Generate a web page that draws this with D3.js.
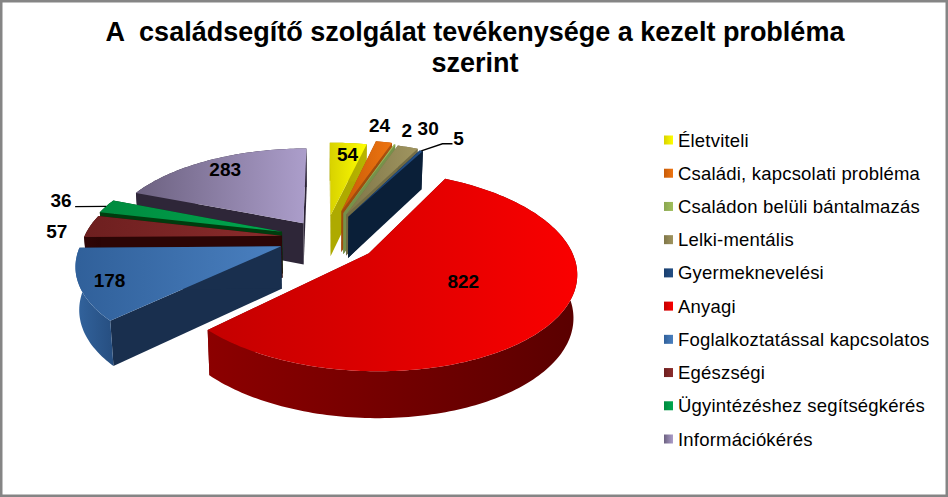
<!DOCTYPE html>
<html>
<head>
<meta charset="utf-8">
<style>
  body { margin: 0; background: #fff; }
  text { font-family: "Liberation Sans", Arial, sans-serif; white-space: pre; }
</style>
<script src="https://cdnjs.cloudflare.com/ajax/libs/d3/7.8.5/d3.min.js"></script>
</head>
<body>
<div id="chart"></div>
<script>
// data
var titleLines = ["A  családsegítő szolgálat tevékenysége a kezelt probléma", "szerint"];
var categories = ["Életviteli", "Családi, kapcsolati probléma", "Családon belüli bántalmazás", "Lelki-mentális", "Gyermeknevelési", "Anyagi", "Foglalkoztatással kapcsolatos", "Egészségi", "Ügyintézéshez segítségkérés", "Információkérés"];
var values = [54, 24, 2, 30, 5, 822, 178, 57, 36, 283];

// how far every slice is pulled out, share of the radius
var explode = [0.26, 0.32, 0.30, 0.29, 0.27, 0.27, 0.236, 0.22, 0.23, 0.20];

// colours of the faces
var topLeft = ["#d8d200", "#c85c08", "#8aa650", "#7f7648", "#1a3f6e", "#c40000", "#30609a", "#6d1f1f", "#008a3e", "#6c6180"];
var topRight = ["#ffff00", "#ee7410", "#a0bf5c", "#a09560", "#234f85", "#fa0000", "#4a80c0", "#8c2c2c", "#00a850", "#ac9ecb"];
var wallLeft = ["#a8a400", "#9c4a0c", "#6f8a42", "#6c6640", "#0a1f38", "#8c0000", "#33649e", "#300606", "#00400f", "#2e2638"];
var wallRight = ["#b8b400", "#b05410", "#7c984a", "#787048", "#0a1f38", "#5a0000", "#264e80", "#2a0404", "#003a0e", "#2e2638"];
var sideColor = ["#aeaa00", "#a04c0c", "#76914a", "#736c44", "#0a1f38", "#7a0000", "#192f4e", "#2c0505", "#003c0e", "#2e2638"];

// back to front
var drawOrder = [9, 8, 7, 6, 0, 1, 2, 3, 4, 5];

// label shift from the point at 0.7 of the radius
var labelShift = [[4, -8], [7, -35], [26, -33], [37, -37], [57, -30], [-32, -16], [-33, 8], [-90, 2], [-96, -13], [-11, -8]];

var width = 948, height = 497;
var cx = 325, cy = 238, Rx = 198, Ry = 92;
var persp = 0.17, depth = 42;

var svg = d3.select("#chart").append("svg")
    .attr("width", width)
    .attr("height", height)
    .style("display", "block");

var defs = svg.append("defs");

svg.append("rect")
    .attr("x", 1).attr("y", 1)
    .attr("width", width - 2).attr("height", height - 2)
    .attr("fill", "#fff")
    .attr("stroke", "#858585")
    .attr("stroke-width", 3);

svg.append("g").selectAll("text")
    .data(titleLines)
    .join("text")
    .attr("x", 475)
    .attr("y", (d, i) => 41 + i * 31)
    .attr("text-anchor", "middle")
    .attr("font-weight", "bold")
    .attr("font-size", 27)
    .text(d => d);

var x = d3.scaleLinear().domain([-1, 1]).range([cx - Rx, cx + Rx]);
var y = d3.scaleLinear().domain([-1, 1]).range([cy - Ry, cy + Ry]);

var pie = d3.pie().sort(null).value(d => d);
var arcs = pie(values);

// flat pie position to picture position, z is 0 on top and 1 at the bottom
function project(u, v, z) {
    var s = 1 / (1 - persp * v);
    return [
        x(u * s * (1 - 0.015 * z)),
        y(v * s) + z * depth * Math.sqrt(s)
    ];
}

function slicePoint(i, r, angle, z) {
    var mid = (arcs[i].startAngle + arcs[i].endAngle) / 2;
    var u = explode[i] * Math.sin(mid) + r * Math.sin(angle);
    var v = -explode[i] * Math.cos(mid) - r * Math.cos(angle);
    return project(u, v, z);
}

function arcAngles(i) {
    var a = arcs[i].startAngle, b = arcs[i].endAngle;
    var n = Math.max(2, Math.ceil((b - a) / 0.02));
    return d3.range(n + 1).map(k => a + (b - a) * k / n);
}

var line = d3.line();

function gradient(id, left, right) {
    var g = defs.append("linearGradient").attr("id", id)
        .attr("x1", 0).attr("x2", 1).attr("y1", 0).attr("y2", 0);
    g.append("stop").attr("offset", 0).attr("stop-color", left);
    g.append("stop").attr("offset", 1).attr("stop-color", right);
}

categories.forEach((c, i) => {
    gradient("top" + i, topLeft[i], topRight[i]);
    gradient("wall" + i, wallLeft[i], wallRight[i]);
});

var slices = svg.append("g").selectAll("g")
    .data(drawOrder)
    .join("g");

// radial side faces
slices.selectAll("path.side")
    .data(i => [[i, arcs[i].startAngle], [i, arcs[i].endAngle]])
    .join("path")
    .attr("class", "side")
    .attr("fill", d => sideColor[d[0]])
    .attr("d", d => line([
        slicePoint(d[0], 0, d[1], 0),
        slicePoint(d[0], 1, d[1], 0),
        slicePoint(d[0], 1, d[1], 1),
        slicePoint(d[0], 0, d[1], 1)
    ]) + "Z");

// outer wall
slices.append("path")
    .attr("fill", i => `url(#wall${i})`)
    .attr("d", i => {
        var angles = arcAngles(i);
        var upper = angles.map(a => slicePoint(i, 1, a, 0));
        var lower = angles.slice().reverse().map(a => slicePoint(i, 1, a, 1));
        return line(upper.concat(lower)) + "Z";
    });

// top face
slices.append("path")
    .attr("fill", i => `url(#top${i})`)
    .attr("d", i => {
        var pts = arcAngles(i).map(a => slicePoint(i, 1, a, 0));
        pts.unshift(slicePoint(i, 0, 0, 0));
        return line(pts) + "Z";
    });

// value labels
function labelPoint(i) {
    var mid = (arcs[i].startAngle + arcs[i].endAngle) / 2;
    var p = slicePoint(i, 0.7, mid, 0);
    return [p[0] + labelShift[i][0], p[1] + labelShift[i][1]];
}

// leader lines of the two far labels
function outerMid(i) {
    var mid = (arcs[i].startAngle + arcs[i].endAngle) / 2;
    return slicePoint(i, 1, mid, 0);
}
var leaders = svg.append("g").attr("fill", "none").attr("stroke", "#000").attr("stroke-width", 1.3);
var p5 = labelPoint(4), p36 = labelPoint(8);
leaders.append("path").attr("d", line([[p5[0] - 6, p5[1] + 5], [p5[0] - 16, p5[1] + 5], outerMid(4)]));
leaders.append("path").attr("d", line([[p36[0] + 14, p36[1] + 6], outerMid(8)]));

svg.append("g").selectAll("text")
    .data(values)
    .join("text")
    .attr("x", (d, i) => labelPoint(i)[0])
    .attr("y", (d, i) => labelPoint(i)[1] + 6.5)
    .attr("text-anchor", "middle")
    .attr("font-weight", "bold")
    .attr("font-size", 19)
    .attr("fill", "#000")
    .text(d => d);

// legend
var legendY = d3.scalePoint().domain(categories).range([140, 439]);

var legend = svg.append("g").selectAll("g")
    .data(categories)
    .join("g")
    .attr("transform", d => `translate(664,${legendY(d)})`);

legend.append("rect")
    .attr("y", -4.5)
    .attr("width", 9)
    .attr("height", 9)
    .attr("fill", (d, i) => `url(#top${i})`);

legend.append("text")
    .attr("x", 14)
    .attr("y", 6.5)
    .attr("font-size", 18.5)
    .attr("letter-spacing", 0.2)
    .attr("fill", "#000")
    .text(d => d);
</script>
</body>
</html>
